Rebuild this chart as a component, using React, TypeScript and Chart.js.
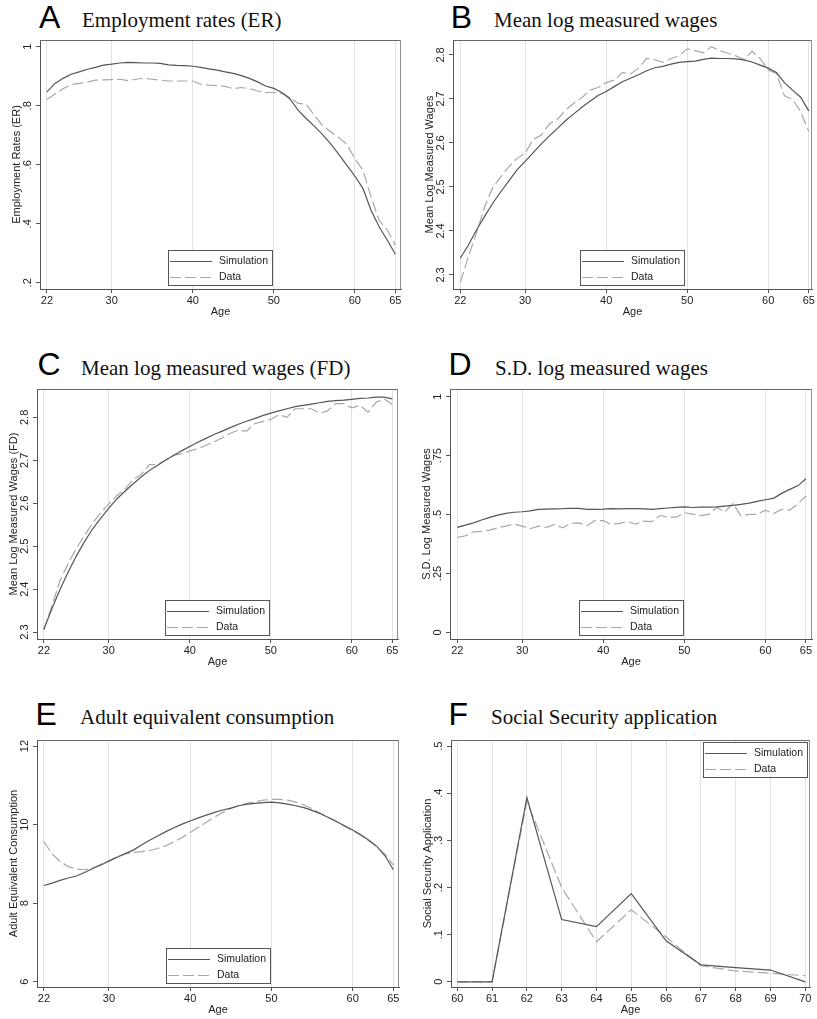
import React, { useEffect, useRef } from 'react';
import { Chart, registerables } from 'chart.js';

Chart.register(...registerables);

const SANS = "'Liberation Sans', Arial, Helvetica, sans-serif";
const SERIF = "'Liberation Serif', 'Times New Roman', serif";
Chart.defaults.font.family = SANS;

// ---------- data ----------
const AGES = [22, 23, 24, 25, 26, 27, 28, 29, 30, 31, 32, 33, 34, 35, 36, 37, 38, 39, 40, 41, 42, 43,
  44, 45, 46, 47, 48, 49, 50, 51, 52, 53, 54, 55, 56, 57, 58, 59, 60, 61, 62, 63, 64, 65];
const AGES_F = [60, 61, 62, 63, 64, 65, 66, 67, 68, 69, 70];

const X_TICKS = [22, 30, 40, 50, 60, 65];
const X_TICKS_F = [60, 61, 62, 63, 64, 65, 66, 67, 68, 69, 70];

const ER_SIM = [0.847, 0.876, 0.893, 0.907, 0.915, 0.924, 0.930, 0.938, 0.941, 0.945, 0.947, 0.946, 0.945, 0.945,
  0.944, 0.939, 0.937, 0.936, 0.934, 0.930, 0.925, 0.921, 0.915, 0.910, 0.902, 0.893, 0.881, 0.867, 0.859, 0.845,
  0.823, 0.785, 0.757, 0.731, 0.703, 0.672, 0.636, 0.599, 0.562, 0.520, 0.446, 0.390, 0.345, 0.297];
const ER_DATA = [0.821, 0.840, 0.858, 0.872, 0.876, 0.880, 0.887, 0.888, 0.889, 0.890, 0.885, 0.890, 0.893, 0.890,
  0.887, 0.884, 0.884, 0.884, 0.884, 0.873, 0.870, 0.868, 0.866, 0.858, 0.862, 0.858, 0.850, 0.845, 0.845, 0.842,
  0.828, 0.808, 0.805, 0.768, 0.734, 0.712, 0.693, 0.670, 0.621, 0.582, 0.492, 0.412, 0.379, 0.328];

const W_SIM = [2.338, 2.368, 2.402, 2.433, 2.463, 2.489, 2.514, 2.539, 2.558, 2.578, 2.598, 2.616, 2.633, 2.651,
  2.666, 2.681, 2.695, 2.708, 2.717, 2.728, 2.739, 2.747, 2.755, 2.764, 2.771, 2.774, 2.779, 2.783, 2.785, 2.786,
  2.790, 2.793, 2.792, 2.792, 2.791, 2.789, 2.784, 2.777, 2.770, 2.760, 2.737, 2.720, 2.704, 2.673];
const W_DATA = [2.283, 2.342, 2.395, 2.455, 2.498, 2.523, 2.546, 2.565, 2.577, 2.608, 2.618, 2.643, 2.654, 2.675,
  2.690, 2.703, 2.720, 2.726, 2.737, 2.743, 2.760, 2.757, 2.770, 2.792, 2.789, 2.783, 2.792, 2.798, 2.814, 2.810,
  2.805, 2.819, 2.810, 2.804, 2.798, 2.790, 2.808, 2.792, 2.766, 2.758, 2.707, 2.699, 2.671, 2.626];

const FD_SIM = [2.307, 2.355, 2.400, 2.440, 2.477, 2.510, 2.540, 2.565, 2.588, 2.610, 2.628, 2.645, 2.661, 2.676,
  2.688, 2.700, 2.711, 2.722, 2.732, 2.742, 2.751, 2.760, 2.768, 2.776, 2.784, 2.791, 2.797, 2.804, 2.810, 2.815,
  2.820, 2.825, 2.828, 2.831, 2.834, 2.837, 2.839, 2.840, 2.842, 2.844, 2.845, 2.847, 2.847, 2.843];
const FD_DATA = [2.305, 2.362, 2.420, 2.460, 2.495, 2.525, 2.553, 2.578, 2.598, 2.618, 2.632, 2.655, 2.667, 2.690,
  2.690, 2.700, 2.712, 2.715, 2.722, 2.727, 2.735, 2.743, 2.752, 2.763, 2.770, 2.768, 2.785, 2.790, 2.795, 2.806,
  2.800, 2.820, 2.820, 2.820, 2.810, 2.815, 2.832, 2.832, 2.822, 2.828, 2.812, 2.835, 2.843, 2.830];

const SD_SIM = [0.446, 0.455, 0.465, 0.477, 0.488, 0.498, 0.505, 0.510, 0.512, 0.516, 0.522, 0.523, 0.524, 0.525,
  0.527, 0.526, 0.522, 0.522, 0.523, 0.525, 0.524, 0.525, 0.525, 0.524, 0.522, 0.525, 0.528, 0.531, 0.533, 0.530,
  0.532, 0.532, 0.533, 0.536, 0.539, 0.543, 0.549, 0.556, 0.563, 0.569, 0.590, 0.607, 0.622, 0.652];
const SD_DATA = [0.403, 0.410, 0.427, 0.429, 0.434, 0.444, 0.451, 0.460, 0.451, 0.440, 0.451, 0.446, 0.458, 0.444,
  0.463, 0.465, 0.453, 0.475, 0.474, 0.458, 0.463, 0.470, 0.460, 0.472, 0.470, 0.496, 0.489, 0.489, 0.508, 0.502,
  0.496, 0.501, 0.530, 0.511, 0.547, 0.494, 0.501, 0.501, 0.519, 0.504, 0.522, 0.519, 0.545, 0.579];

const C_SIM = [8.45, 8.51, 8.58, 8.64, 8.69, 8.78, 8.88, 8.97, 9.07, 9.17, 9.26, 9.35, 9.48, 9.60, 9.71, 9.82,
  9.92, 10.01, 10.09, 10.17, 10.24, 10.31, 10.37, 10.42, 10.48, 10.52, 10.54, 10.56, 10.57, 10.55, 10.52, 10.48,
  10.43, 10.36, 10.28, 10.18, 10.08, 9.97, 9.86, 9.74, 9.60, 9.44, 9.20, 8.85];
const C_DATA = [9.57, 9.25, 9.06, 8.93, 8.87, 8.85, 8.89, 8.99, 9.08, 9.18, 9.25, 9.29, 9.31, 9.34, 9.39, 9.46,
  9.56, 9.67, 9.80, 9.93, 10.06, 10.19, 10.31, 10.41, 10.49, 10.54, 10.58, 10.62, 10.64, 10.64, 10.62, 10.57,
  10.50, 10.40, 10.29, 10.18, 10.07, 9.96, 9.85, 9.73, 9.58, 9.43, 9.24, 8.97];

const SS_SIM = [0, 0, 0.391, 0.132, 0.117, 0.187, 0.087, 0.036, 0.030, 0.025, 0];
const SS_DATA = [0, 0, 0.383, 0.200, 0.085, 0.153, 0.095, 0.034, 0.023, 0.018, 0.013];

const Y_TICKS_ER = [0.2, 0.4, 0.6, 0.8, 1];
const Y_LABELS_ER = ['.2', '.4', '.6', '.8', '1'];
const Y_TICKS_W = [2.3, 2.4, 2.5, 2.6, 2.7, 2.8];
const Y_LABELS_W = ['2.3', '2.4', '2.5', '2.6', '2.7', '2.8'];
const Y_TICKS_SD = [0, 0.25, 0.5, 0.75, 1];
const Y_LABELS_SD = ['0', '.25', '.5', '.75', '1'];
const Y_TICKS_C = [6, 8, 10, 12];
const Y_LABELS_C = ['6', '8', '10', '12'];
const Y_TICKS_SS = [0, 0.1, 0.2, 0.3, 0.4, 0.5];
const Y_LABELS_SS = ['0', '.1', '.2', '.3', '.4', '.5'];

const SERIES_NAMES = ['Simulation', 'Data'];

// ---------- styling ----------
const SIM_COLOR = '#555555';
const DATA_COLOR = '#a8a8a8';
const AXIS_COLOR = '#555555';
const GRID_COLOR = '#e2e2e2';
const TEXT_COLOR = '#222222';
const Y_AXIS_W = 36;
const X_AXIS_H = 34;
const PAD_T = 6;
const PAD_R = 5;

type Frame = { l: number; t: number; r: number; b: number };
type PanelDef = {
  letter: string; title: string; yTitle: string;
  frame: Frame; letterX: number; titleX: number; base: number;
  x: number[]; sim: number[]; data: number[];
  xMin: number; xMax: number; xTicks: number[];
  yMin: number; yMax: number; yTicks: number[]; yLabels: string[];
  legend: 'bottom' | 'topright';
};

const PANELS: PanelDef[] = [
  { letter: 'A', title: 'Employment rates (ER)', yTitle: 'Employment Rates (ER)',
    frame: { l: 40, t: 40, r: 401, b: 289 }, letterX: 39, titleX: 82, base: 28,
    x: AGES, sim: ER_SIM, data: ER_DATA, xMin: 21.15, xMax: 65.7, xTicks: X_TICKS,
    yMin: 0.179, yMax: 1.023, yTicks: Y_TICKS_ER, yLabels: Y_LABELS_ER, legend: 'bottom' },
  { letter: 'B', title: 'Mean log measured wages', yTitle: 'Mean Log Measured Wages',
    frame: { l: 453, t: 40, r: 812, b: 289 }, letterX: 450.7, titleX: 494, base: 28,
    x: AGES, sim: W_SIM, data: W_DATA, xMin: 21.1, xMax: 65.4, xTicks: X_TICKS,
    yMin: 2.268, yMax: 2.834, yTicks: Y_TICKS_W, yLabels: Y_LABELS_W, legend: 'bottom' },
  { letter: 'C', title: 'Mean log measured wages (FD)', yTitle: 'Mean Log Measured Wages (FD)',
    frame: { l: 37, t: 389, r: 398, b: 639 }, letterX: 37.4, titleX: 81, base: 375.5,
    x: AGES, sim: FD_SIM, data: FD_DATA, xMin: 21.15, xMax: 65.7, xTicks: X_TICKS,
    yMin: 2.284, yMax: 2.866, yTicks: Y_TICKS_W, yLabels: Y_LABELS_W, legend: 'bottom' },
  { letter: 'D', title: 'S.D. log measured wages', yTitle: 'S.D. Log Measured Wages',
    frame: { l: 450, t: 389, r: 812, b: 639 }, letterX: 448.5, titleX: 495, base: 375.5,
    x: AGES, sim: SD_SIM, data: SD_DATA, xMin: 21.1, xMax: 65.75, xTicks: X_TICKS,
    yMin: -0.028, yMax: 1.033, yTicks: Y_TICKS_SD, yLabels: Y_LABELS_SD, legend: 'bottom' },
  { letter: 'E', title: 'Adult equivalent consumption', yTitle: 'Adult Equivalent Consumption',
    frame: { l: 37, t: 740, r: 399, b: 987 }, letterX: 35.5, titleX: 80, base: 725,
    x: AGES, sim: C_SIM, data: C_DATA, xMin: 21.15, xMax: 65.7, xTicks: X_TICKS,
    yMin: 5.865, yMax: 12.153, yTicks: Y_TICKS_C, yLabels: Y_LABELS_C, legend: 'bottom' },
  { letter: 'F', title: 'Social Security application', yTitle: 'Social Security Application',
    frame: { l: 451, t: 740, r: 810, b: 987 }, letterX: 448.4, titleX: 491, base: 725,
    x: AGES_F, sim: SS_SIM, data: SS_DATA, xMin: 59.82, xMax: 70.135, xTicks: X_TICKS_F,
    yMin: -0.011, yMax: 0.513, yTicks: Y_TICKS_SS, yLabels: Y_LABELS_SS, legend: 'topright' },
];

function widestLabel(labels: string[]): number {
  const c = document.createElement('canvas').getContext('2d');
  if (!c) return 10;
  c.font = `11px ${SANS}`;
  return Math.max(...labels.map((l) => c.measureText(l).width));
}

const frameLegendPlugin = {
  id: 'frameLegend',
  afterDraw(chart: any, _args: any, opts: any) {
    const { ctx, chartArea: ca } = chart;
    const L = Math.round(ca.left), R = Math.round(ca.right), T = Math.round(ca.top), B = Math.round(ca.bottom);
    ctx.save();
    ctx.lineWidth = 1;
    ctx.setLineDash([]);
    ctx.strokeStyle = '#6a6a6a';
    ctx.beginPath(); ctx.moveTo(L, T + 0.5); ctx.lineTo(R, T + 0.5); ctx.stroke();
    ctx.strokeStyle = '#8f8f8f';
    ctx.beginPath(); ctx.moveTo(R - 0.5, T); ctx.lineTo(R - 0.5, B); ctx.stroke();

    const W = 105, H = 36;
    let bx: number, by: number;
    if (opts.pos === 'topright') { bx = R - 2 - W; by = T + 2; }
    else { bx = Math.round((L + R) / 2 - W / 2); by = B - 3 - H; }
    ctx.fillStyle = '#ffffff';
    ctx.fillRect(bx, by, W, H);
    ctx.strokeStyle = '#555555';
    ctx.lineWidth = 1;
    ctx.strokeRect(bx + 0.5, by + 0.5, W - 1, H - 1);
    chart.data.datasets.forEach((ds: any, i: number) => {
      const y = by + 11 + i * 16;
      ctx.strokeStyle = ds.borderColor;
      ctx.lineWidth = ds.borderWidth;
      ctx.setLineDash(ds.borderDash || []);
      ctx.beginPath(); ctx.moveTo(bx + 2, y + 0.5); ctx.lineTo(bx + 44, y + 0.5); ctx.stroke();
      ctx.setLineDash([]);
      ctx.fillStyle = TEXT_COLOR;
      ctx.font = `10.5px ${SANS}`;
      ctx.textBaseline = 'middle';
      ctx.textAlign = 'left';
      ctx.fillText(ds.label, bx + 51, y + 0.5);
    });
    ctx.restore();
  },
};

function Panel({ p }: { p: PanelDef }) {
  const ref = useRef<HTMLCanvasElement>(null);
  const f = p.frame;
  const cw = f.r - f.l + Y_AXIS_W + PAD_R;
  const ch = f.b - f.t + PAD_T + X_AXIS_H;
  useEffect(() => {
    if (!ref.current) return;
    const widest = widestLabel(p.yLabels);
    const chart = new Chart(ref.current, {
      type: 'line',
      data: {
        datasets: [
          { label: SERIES_NAMES[0], data: p.x.map((a, i) => ({ x: a, y: p.sim[i] })), borderColor: SIM_COLOR,
            borderWidth: 1.2, pointRadius: 0, tension: 0, fill: false, order: 0 },
          { label: SERIES_NAMES[1], data: p.x.map((a, i) => ({ x: a, y: p.data[i] })), borderColor: DATA_COLOR,
            borderWidth: 1.2, borderDash: [11, 4], pointRadius: 0, tension: 0, fill: false, order: 1 },
        ],
      },
      options: {
        animation: false,
        responsive: false,
        events: [],
        layout: { padding: { left: 0, top: PAD_T, right: PAD_R, bottom: 0 } },
        plugins: {
          legend: { display: false },
          title: { display: false },
          tooltip: { enabled: false },
          frameLegend: { pos: p.legend },
        } as any,
        scales: {
          x: {
            type: 'linear', min: p.xMin, max: p.xMax,
            afterBuildTicks: (s: any) => { s.ticks = p.xTicks.map((v) => ({ value: v })); },
            afterFit: (s: any) => { s.height = X_AXIS_H; s.paddingLeft = 0; s.paddingRight = 0; },
            ticks: { font: { size: 11 }, color: TEXT_COLOR, padding: 1, maxRotation: 0, minRotation: 0,
              autoSkip: false, callback: (v: any) => String(v) },
            grid: { color: GRID_COLOR, lineWidth: 1, drawTicks: true, tickLength: 4, tickColor: AXIS_COLOR },
            border: { display: true, color: AXIS_COLOR, width: 1 },
            title: { display: true, text: 'Age', font: { size: 11 }, color: TEXT_COLOR, padding: { top: 0, bottom: 4.9 } },
          },
          y: {
            type: 'linear', min: p.yMin, max: p.yMax,
            afterBuildTicks: (s: any) => { s.ticks = p.yTicks.map((v) => ({ value: v })); },
            afterFit: (s: any) => { s.width = Y_AXIS_W; s.paddingTop = 0; s.paddingBottom = 0; },
            ticks: { font: { size: 11 }, color: TEXT_COLOR, minRotation: 90, maxRotation: 90, crossAlign: 'center',
              padding: 8 - widest / 2, autoSkip: false, callback: (_v: any, i: number) => p.yLabels[i] },
            grid: { display: true, drawOnChartArea: false, drawTicks: true, tickLength: 4, tickColor: AXIS_COLOR },
            border: { display: true, color: AXIS_COLOR, width: 1 },
            title: { display: true, text: p.yTitle, font: { size: 11 }, color: TEXT_COLOR, padding: { top: 5.9, bottom: 0 } },
          },
        },
      } as any,
      plugins: [frameLegendPlugin as any],
    });
    return () => chart.destroy();
  }, []);
  return (
    <>
      <div style={{ position: 'absolute', left: p.letterX, top: p.base - 27.1, fontFamily: SANS, fontSize: 32,
        lineHeight: '32px', color: '#000', whiteSpace: 'nowrap' }}>{p.letter}</div>
      <div style={{ position: 'absolute', left: p.titleX, top: p.base - 17.6, fontFamily: SERIF, fontSize: 21,
        lineHeight: '21px', color: '#111', whiteSpace: 'nowrap' }}>{p.title}</div>
      <canvas ref={ref} width={cw} height={ch}
        style={{ position: 'absolute', left: f.l - Y_AXIS_W, top: f.t - PAD_T, width: cw, height: ch, display: 'block' }} />
    </>
  );
}

export default function App() {
  return (
    <div style={{ position: 'absolute', left: 0, top: 0, width: 817, height: 1019, background: '#fff', overflow: 'hidden' }}>
      {PANELS.map((p) => <Panel key={p.letter} p={p} />)}
    </div>
  );
}
